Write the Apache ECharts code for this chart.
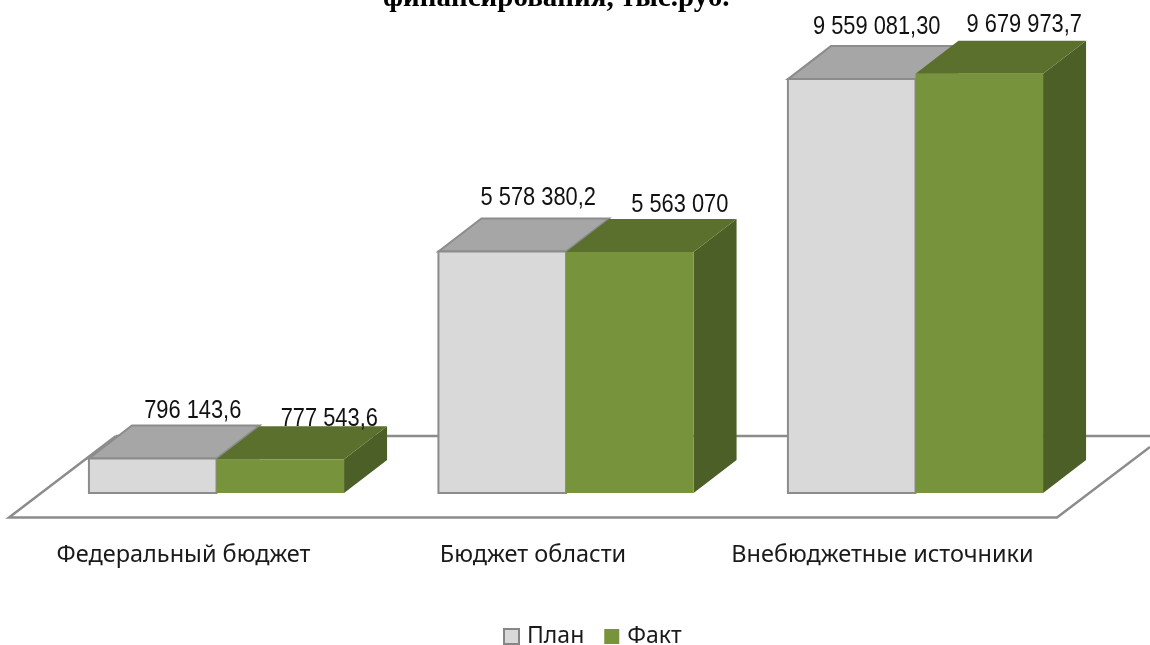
<!DOCTYPE html>
<html>
<head>
<meta charset="utf-8">
<style>
  html, body { margin: 0; background: #fff; }
  #chart { width: 1150px; height: 645px; }
</style>
<script src="https://cdn.jsdelivr.net/npm/echarts@6/dist/echarts.min.js"></script>
</head>
<body>
<div id="chart"></div>
<script>
const categories = ['Федеральный бюджет', 'Бюджет области', 'Внебюджетные источники'];
const planValues = [796143.6, 5578380.2, 9559081.3];
const factValues = [777543.6, 5563070, 9679973.7];
const planLabels = ['796 143,6', '5 578 380,2', '9 559 081,30'];
const factLabels = ['777 543,6', '5 563 070', '9 679 973,7'];

// label nudges from the front top centre of each bar
const planLabelOffset = [[40, -48], [36, -54], [25, -52]];
const factLabelOffset = [[49, -41], [50, -47], [45, -49]];

const DEPTH_X = 43;
const DEPTH_Y = 33;
const FONT = '"Noto Sans", sans-serif';

function box3d(side, colors, labels, offsets) {
  return function (params, api) {
    const i = api.value(0);
    const top = api.coord([i, api.value(1)]);
    const base = api.coord([i, 0]);
    const barW = api.size([1, 0])[0] * 0.365;
    const x0 = side < 0 ? top[0] - barW : top[0];
    const x1 = x0 + barW;
    const line = colors.stroke ? { stroke: colors.stroke, lineWidth: 2 } : {};
    return {
      type: 'group',
      children: [
        {
          type: 'polygon',
          shape: { points: [[x1, base[1]], [x1 + DEPTH_X, base[1] - DEPTH_Y], [x1 + DEPTH_X, top[1] - DEPTH_Y], [x1, top[1]]] },
          style: { fill: colors.side }
        },
        {
          type: 'polygon',
          shape: { points: [[x0, top[1]], [x0 + DEPTH_X, top[1] - DEPTH_Y], [x1 + DEPTH_X, top[1] - DEPTH_Y], [x1, top[1]]] },
          style: { fill: colors.top, ...line }
        },
        {
          type: 'rect',
          shape: { x: x0, y: top[1], width: barW, height: base[1] - top[1] },
          style: { fill: colors.front, ...line }
        },
        {
          // the original labels are condensed, no narrow font here so squeeze it
          type: 'text',
          x: x0 + barW / 2 + offsets[i][0],
          y: top[1] + offsets[i][1],
          scaleX: 0.84,
          style: {
            text: labels[i],
            x: 0,
            y: 0,
            align: 'center',
            verticalAlign: 'middle',
            fill: '#111',
            font: '26px "Liberation Sans", sans-serif'
          }
        }
      ]
    };
  };
}

const chart = echarts.init(document.getElementById('chart'));
chart.setOption({
  animation: false,
  backgroundColor: '#fff',
  title: {
    text: 'финансирования, тыс.руб.',
    left: 383,
    top: -16,
    padding: 0,
    textStyle: { fontFamily: '"Liberation Serif", serif', fontWeight: 'bold', fontSize: 29, color: '#000' }
  },
  legend: {
    left: 503,
    top: 625,
    padding: 0,
    itemWidth: 15,
    itemHeight: 15,
    itemGap: 20,
    icon: 'rect',
    data: ['План', 'Факт'],
    textStyle: { fontFamily: FONT, fontSize: 23, color: '#1a1a1a', padding: [0, 0, 0, 3] }
  },
  grid: { left: 41.75, right: 59.75, top: 60, bottom: 152 },
  xAxis: {
    type: 'category',
    data: categories,
    axisLine: { show: false },
    axisTick: { show: false },
    axisLabel: {
      margin: 50,
      padding: [0, 66, 0, 0],
      interval: 0,
      fontFamily: FONT,
      fontSize: 23.5,
      color: '#1a1a1a'
    }
  },
  yAxis: { type: 'value', min: 0, max: 10000000, show: false },
  graphic: [{
    type: 'polyline',
    z: 0,
    shape: { points: [[116, 436], [1150, 436]] },
    style: { stroke: '#8c8c8c', lineWidth: 2.5, fill: null }
  }, {
    type: 'polyline',
    z: 0,
    shape: { points: [[116, 436], [9, 517.5], [1057, 517.5], [1150, 447]] },
    style: { stroke: '#8c8c8c', lineWidth: 2.5, fill: null }
  }],
  series: [{
    name: 'План',
    type: 'custom',
    data: planValues.map((v, i) => [i, v]),
    encode: { x: 0, y: 1 },
    itemStyle: { color: '#d9d9d9', borderColor: '#868686', borderWidth: 2 },
    renderItem: box3d(-1, { front: '#d9d9d9', top: '#a6a6a6', side: '#a6a6a6', stroke: '#8c8c8c' }, planLabels, planLabelOffset)
  }, {
    name: 'Факт',
    type: 'custom',
    data: factValues.map((v, i) => [i, v]),
    encode: { x: 0, y: 1 },
    itemStyle: { color: '#77933c' },
    renderItem: box3d(1, { front: '#77933c', top: '#5b702d', side: '#4b5f26' }, factLabels, factLabelOffset)
  }]
});
</script>
</body>
</html>
